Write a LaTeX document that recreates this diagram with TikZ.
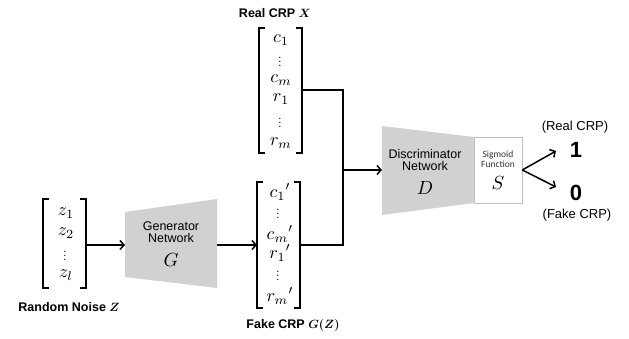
\documentclass[tikz,border=0pt]{standalone}
\usepackage{amsmath,bm,graphicx}
\usepackage{fontspec}
\setmainfont{Liberation Sans}
\newfontfamily\sigfont{Carlito}
\usetikzlibrary{arrows.meta}
\newcommand{\entm}[1]{\scalebox{1.8}{$#1$}}
\newcommand{\netsym}[1]{\scalebox{1.9}{$#1$}}
\newcommand{\lblm}[1]{$\bm{#1}$}
\tikzset{
  brk/.style={line width=1.3pt},
  conn/.style={line width=1.5pt},
  arr/.style={conn,-{Straight Barb[length=4pt,width=9pt,line width=1.5pt]}},
  ent/.style={inner sep=0pt},
  dts/.style={inner sep=0pt, font=\fontsize{11}{12}\selectfont},
  lbl/.style={font=\fontsize{12.5}{14}\selectfont\bfseries, inner sep=0pt},
  net/.style={font=\fontsize{12.5}{14}\selectfont, align=center, inner sep=0pt},
  big/.style={inner sep=0pt},
  trap/.style={fill=black!18, draw=none}
}
\begin{document}
\begin{tikzpicture}[x=1pt,y=-1pt]
\useasboundingbox (0,0) rectangle (629,339);
% ---------- Random noise Z ----------
\draw[brk] (49,199) -| (43,288) -- ++(6,0);
\draw[brk] (80,199) -| (86,288) -- ++(-6,0);
\node[ent] (z1) at (66,213) {\entm{z_1}};
\node[ent] (z2) at (66,233) {\entm{z_2}};
\node[dts] (zd) at (65,253) {$\vdots$};
\node[ent] (zl) at (66,275) {\entm{z_l}};
\node[lbl] (zlab) at (69,307) {Random Noise \lblm{Z}};
\coordinate (zR) at (86,245);
% ---------- Generator ----------
\fill[trap] (125,212) -- (217,199) -- (217,288) -- (125,277) -- cycle;
\coordinate (genL) at (125,245);
\coordinate (genR) at (217,245);
\node[net] (gtxt) at (171,232) {Generator\\[-2pt]Network};
\node[big] (G) at (171,260) {\netsym{G}};
% ---------- Fake CRP ----------
\draw[brk] (263,182) -| (257,308) -- ++(6,0);
\draw[brk] (294,182) -| (300,308) -- ++(-6,0);
\node[ent] (f1) at (280,192) {\entm{{c_1}'}};
\node[dts] (f2) at (278,211) {$\vdots$};
\node[ent] (f3) at (280,234) {\entm{{c_m}'}};
\node[ent] (f4) at (280,253) {\entm{{r_1}'}};
\node[dts] (f5) at (278,273) {$\vdots$};
\node[ent] (f6) at (280,296) {\entm{{r_m}'}};
\node[lbl] (flab) at (293,325) {Fake CRP \lblm{G(Z)}};
\coordinate (fakeL) at (257,245);
\coordinate (fakeR) at (300,245);
% ---------- Real CRP ----------
\node[lbl] (rlab) at (275,13) {Real CRP \lblm{X}};
\draw[brk] (265,28) -| (259,153) -- ++(6,0);
\draw[brk] (296,28) -| (302,153) -- ++(-6,0);
\node[ent] (r1) at (281,40) {\entm{c_1}};
\node[dts] (r2) at (280,59) {$\vdots$};
\node[ent] (r3) at (281,80) {\entm{c_m}};
\node[ent] (r4) at (281,99) {\entm{r_1}};
\node[dts] (r5) at (280,120) {$\vdots$};
\node[ent] (r6) at (281,143) {\entm{r_m}};
\coordinate (realR) at (302,90);
% ---------- Discriminator ----------
\fill[trap] (382,126) -- (474,137) -- (474,203) -- (382,215) -- cycle;
\coordinate (discL) at (382,170);
\node[net] (dtxt) at (425,160) {Discriminator\\[-2pt]Network};
\node[big] (D) at (425,188) {\netsym{D}};
\node[draw=black!25, line width=0.6pt, minimum width=48pt, minimum height=66pt, inner sep=0pt] (sig) at (498,170) {};
\node[font=\fontsize{9.5}{11}\selectfont\sigfont, align=center, inner sep=0pt, text=black!80] (sigt) at (498,159) {Sigmoid\\[-1pt]Function};
\node[big] (S) at (498,183) {\netsym{S}};
% ---------- outputs ----------
\node[font=\fontsize{22}{22}\selectfont\bfseries, inner sep=0pt] (one) at (576,150) {1};
\node[font=\fontsize{22}{22}\selectfont\bfseries, inner sep=0pt] (zero) at (576,193) {0};
\node[font=\fontsize{13}{14}\selectfont, inner sep=0pt] (rc) at (575,127) {(Real CRP)};
\node[font=\fontsize{13}{14}\selectfont, inner sep=0pt] (fc) at (577,215) {(Fake CRP)};
\coordinate (join) at (343,170);
\coordinate (o1) at (556,151);
\coordinate (o0) at (556,187);
% ---------- connectors ----------
\draw[arr] (zR) -- (genL);
\draw[arr] (genR) -- (fakeL);
\draw[conn] (realR) -| (join);
\draw[conn] (fakeR) -| (join);
\draw[arr] (join) -- (discL);
\draw[arr] (sig.east) -- (o1);
\draw[arr] (sig.east) -- (o0);
\end{tikzpicture}
\end{document}
